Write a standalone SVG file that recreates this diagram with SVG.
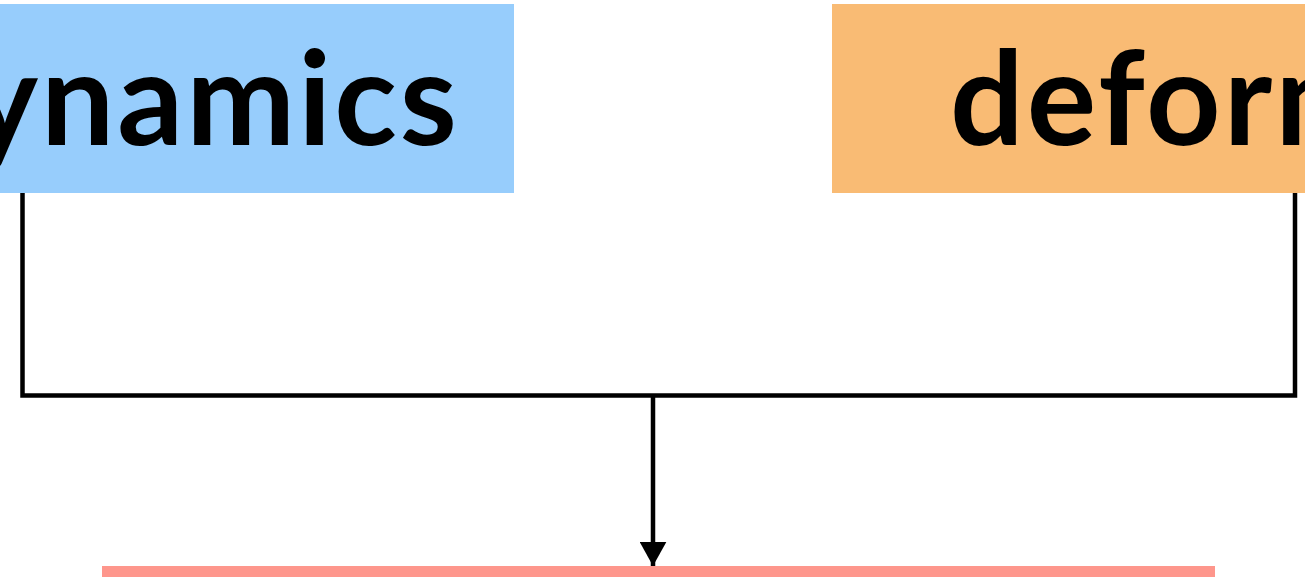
<svg xmlns="http://www.w3.org/2000/svg" width="1305" height="577" viewBox="0 0 1305 577">
<style>
.lbl{font-family:Lato,"Noto Sans",sans-serif;font-weight:700;font-size:130px;letter-spacing:3px;fill:#000}
.conn{fill:none;stroke:#000;stroke-width:4.5}
</style>
<defs>
<marker id="ah" markerWidth="5.4" markerHeight="6" refX="5.4" refY="3" orient="auto" markerUnits="strokeWidth"><path d="M0,0 L5.4,3 L0,6 Z" fill="#000"/></marker>
</defs>
<rect width="1305" height="577" fill="#fff"/>
<g id="node-dynamics">
<rect x="-20" y="4" width="534" height="189" fill="#97CDFC"/>
<text class="lbl" x="460" y="145" text-anchor="end">ynamics</text>
</g>
<g id="node-deform">
<rect x="832" y="4" width="500" height="189" fill="#F9BB74"/>
<text class="lbl" x="950" y="145">deform</text>
</g>
<g id="node-target">
<rect x="102" y="566" width="1113" height="11" fill="#FE968C"/>
</g>
<g id="connectors">
<polyline class="conn" points="22.5,193 22.5,395.5 1295,395.5 1295,193"/>
<line class="conn" x1="653" y1="395.5" x2="653" y2="566" marker-end="url(#ah)"/>
</g>
</svg>
